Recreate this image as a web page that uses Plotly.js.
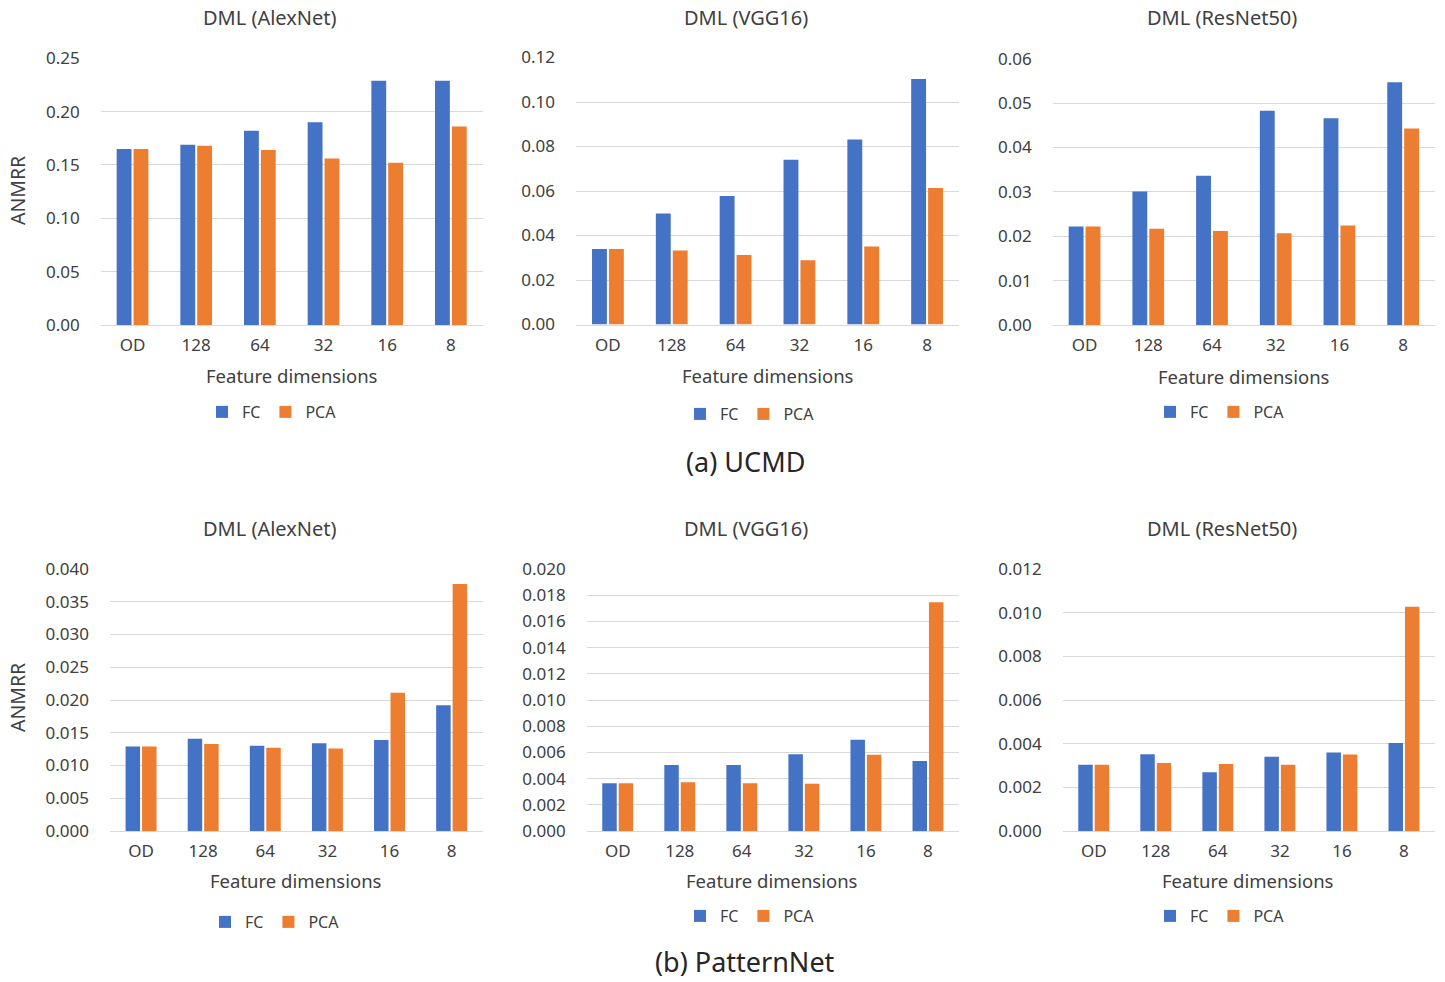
<!DOCTYPE html>
<html>
<head>
<meta charset="utf-8">
<script src="https://cdn.plot.ly/plotly-3.0.1.min.js"></script>
<style>
  html, body { margin: 0; padding: 0; background: #ffffff; }
  #chart { width: 1445px; height: 982px; }
</style>
</head>
<body>
<div id="chart"></div>
<script>
// Feature dimension categories shared by every panel
const categories = ['OD', '128', '64', '32', '16', '8'];
const seriesNames = ['FC', 'PCA'];

// (a) UCMD — ANMRR per feature dimension
const ucmdAlexNetFC   = [0.165, 0.169, 0.182, 0.190, 0.229, 0.229];
const ucmdAlexNetPCA  = [0.165, 0.168, 0.164, 0.156, 0.152, 0.186];
const ucmdVGG16FC     = [0.0339, 0.0499, 0.0577, 0.0740, 0.0831, 0.1103];
const ucmdVGG16PCA    = [0.0339, 0.0333, 0.0312, 0.0289, 0.0351, 0.0614];
const ucmdResNet50FC  = [0.0222, 0.0301, 0.0336, 0.0483, 0.0466, 0.0547];
const ucmdResNet50PCA = [0.0222, 0.0217, 0.0212, 0.0207, 0.0224, 0.0443];

// (b) PatternNet — ANMRR per feature dimension
const pnAlexNetFC   = [0.0129, 0.0141, 0.0130, 0.0134, 0.0139, 0.0192];
const pnAlexNetPCA  = [0.0129, 0.0133, 0.0127, 0.0126, 0.0211, 0.0377];
const pnVGG16FC     = [0.00364, 0.00504, 0.00504, 0.00585, 0.00697, 0.00534];
const pnVGG16PCA    = [0.00364, 0.00372, 0.00364, 0.00361, 0.00583, 0.01746];
const pnResNet50FC  = [0.00304, 0.00351, 0.00269, 0.00340, 0.00360, 0.00403];
const pnResNet50PCA = [0.00304, 0.00311, 0.00307, 0.00304, 0.00350, 0.01027];

// Panel titles and group captions
const panelTitles = ['DML (AlexNet)', 'DML (VGG16)', 'DML (ResNet50)'];
const groupCaptions = ['(a) UCMD', '(b) PatternNet'];
const xTitle = 'Feature dimensions';
const yTitle = 'ANMRR';

// ---- drawing ----
const W = 1445, H = 982;
const fx = x => x / W;
const fy = y => 1 - y / H;

const BLUE = '#4472C4';
const ORANGE = '#ED7D31';
const GRID = '#D9D9D9';
const TEXT = '#404040';
const FONT = '"Noto Sans", "Open Sans", Arial, sans-serif';

const panels = [
  { fc: ucmdAlexNetFC,   pca: ucmdAlexNetPCA,   title: panelTitles[0], ymax: 0.25,  dtick: 0.05,  fmt: '.2f',
    box: [100.7, 482.7, 58.3, 325], titleXY: [270, 18], xtXY: [292, 375], legXY: [272, 412] },
  { fc: ucmdVGG16FC,     pca: ucmdVGG16PCA,     title: panelTitles[1], ymax: 0.12,  dtick: 0.02,  fmt: '.2f',
    box: [576, 959, 57.5, 324.5], titleXY: [746, 18], xtXY: [768, 375], legXY: [750, 414] },
  { fc: ucmdResNet50FC,  pca: ucmdResNet50PCA,  title: panelTitles[2], ymax: 0.06,  dtick: 0.01,  fmt: '.2f',
    box: [1052.7, 1435, 58.7, 325], titleXY: [1222, 18], xtXY: [1244, 376], legXY: [1220, 412] },
  { fc: pnAlexNetFC,     pca: pnAlexNetPCA,     title: panelTitles[0], ymax: 0.040, dtick: 0.005, fmt: '.3f',
    box: [110, 482.7, 569, 831], titleXY: [270, 528], xtXY: [296, 880], legXY: [275, 922] },
  { fc: pnVGG16FC,       pca: pnVGG16PCA,       title: panelTitles[1], ymax: 0.020, dtick: 0.002, fmt: '.3f',
    box: [586.7, 959, 569, 831], titleXY: [746, 528], xtXY: [772, 880], legXY: [750, 916] },
  { fc: pnResNet50FC,    pca: pnResNet50PCA,    title: panelTitles[2], ymax: 0.012, dtick: 0.002, fmt: '.3f',
    box: [1062.7, 1435, 569, 831], titleXY: [1222, 528], xtXY: [1248, 880], legXY: [1220, 916] }
];

const traces = [];
const layout = {
  width: W, height: H,
  margin: { l: 0, r: 0, t: 0, b: 0 },
  paper_bgcolor: '#ffffff',
  plot_bgcolor: '#ffffff',
  font: { family: FONT, size: 17, color: TEXT },
  barmode: 'group',
  bargap: 0.47,
  bargroupgap: 0.12,
  annotations: []
};

panels.forEach((p, i) => {
  const n = i + 1;
  const xa = 'x' + (n === 1 ? '' : n);
  const ya = 'y' + (n === 1 ? '' : n);
  const legendId = 'legend' + (n === 1 ? '' : n);

  [[p.fc, seriesNames[0], BLUE], [p.pca, seriesNames[1], ORANGE]].forEach(([vals, name, color]) => {
    traces.push({
      type: 'bar',
      x: categories,
      y: vals,
      name: name,
      xaxis: xa,
      yaxis: ya,
      legend: legendId,
      marker: { color: color, line: { width: 0 } },
      hovertemplate: name + ' %{x}: %{y}<extra></extra>'
    });
  });

  const [x0, x1, yTop, yBot] = p.box;
  layout['xaxis' + (n === 1 ? '' : n)] = {
    domain: [fx(x0), fx(x1)],
    anchor: ya,
    type: 'category',
    categoryorder: 'array',
    categoryarray: categories,
    showgrid: false,
    showline: true,
    linecolor: GRID,
    linewidth: 1,
    ticks: '',
    ticklabelstandoff: 5,
    tickfont: { size: 17, color: TEXT },
    fixedrange: true
  };
  layout['yaxis' + (n === 1 ? '' : n)] = {
    domain: [fy(yBot), fy(yTop)],
    anchor: xa,
    range: [0, p.ymax],
    dtick: p.dtick,
    tick0: 0,
    tickformat: p.fmt,
    showgrid: true,
    gridcolor: GRID,
    gridwidth: 1,
    zeroline: false,
    showline: false,
    ticks: '',
    ticklabelstandoff: 20,
    tickfont: { size: 17, color: TEXT },
    fixedrange: true
  };

  layout[legendId] = {
    orientation: 'h',
    x: fx(p.legXY[0]), y: fy(p.legXY[1]),
    xanchor: 'center', yanchor: 'middle',
    font: { size: 16, color: TEXT },
    bgcolor: 'rgba(0,0,0,0)',
    itemwidth: 30,
    tracegroupgap: 0
  };

  layout.annotations.push({
    text: p.title, xref: 'paper', yref: 'paper',
    x: fx(p.titleXY[0]), y: fy(p.titleXY[1]),
    xanchor: 'center', yanchor: 'middle', showarrow: false,
    font: { size: 20, color: TEXT }
  });
  layout.annotations.push({
    text: xTitle, xref: 'paper', yref: 'paper',
    x: fx(p.xtXY[0]), y: fy(p.xtXY[1]),
    xanchor: 'center', yanchor: 'middle', showarrow: false,
    font: { size: 18.5, color: TEXT }
  });
});

// Y axis titles on the left-most panels
[[17, 191], [17, 698]].forEach(([x, y]) => {
  layout.annotations.push({
    text: yTitle, xref: 'paper', yref: 'paper',
    x: fx(x), y: fy(y), xanchor: 'center', yanchor: 'middle',
    textangle: -90, showarrow: false,
    font: { size: 19.5, color: TEXT }
  });
});

// Group captions under each row
[[745, 461], [745, 961]].forEach(([x, y], i) => {
  layout.annotations.push({
    text: groupCaptions[i], xref: 'paper', yref: 'paper',
    x: fx(x), y: fy(y), xanchor: 'center', yanchor: 'middle',
    showarrow: false,
    font: { size: 27, color: '#262626' }
  });
});

Plotly.newPlot('chart', traces, layout, { displayModeBar: false, responsive: false });
</script>
</body>
</html>
